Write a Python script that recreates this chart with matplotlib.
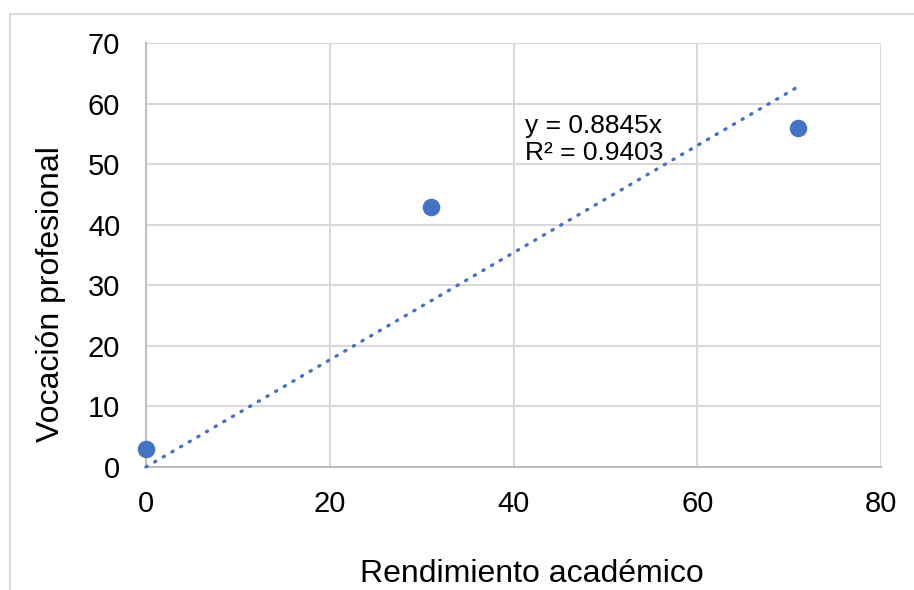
import matplotlib
matplotlib.use("Agg")
import matplotlib.pyplot as plt
from matplotlib.patches import Rectangle
import numpy as np

plt.rcParams['font.family'] = ['Liberation Sans', 'DejaVu Sans']

x_vals = [0, 31, 71]
y_vals = [3, 43, 56]
slope = 0.8845
r2 = 0.9403
x_ticks = [0, 20, 40, 60, 80]
y_ticks = [0, 10, 20, 30, 40, 50, 60, 70]

W, H = 914, 590
fig = plt.figure(figsize=(W / 100, H / 100), dpi=100)
fig.patch.set_facecolor('white')

# outer chart border (partly cut off at right/bottom)
fig.patches.append(Rectangle((10 / W, -0.05), 1.1, 1 - 14 / H + 0.05,
                             transform=fig.transFigure, fill=False,
                             edgecolor='#d9d9d9', linewidth=1.5))

ax = fig.add_axes([146 / W, 1 - 467 / H, (881 - 146) / W, (467 - 43) / H])
ax.set_xlim(0, 80)
ax.set_ylim(0, 70)
ax.set_xticks(x_ticks)
ax.set_yticks(y_ticks)
ax.grid(True, color='#d9d9d9', linewidth=1.5)
ax.set_axisbelow(True)
for s in ['top', 'right']:
    ax.spines[s].set_visible(False)
for s in ['left', 'bottom']:
    ax.spines[s].set_color('#bfbfbf')
    ax.spines[s].set_linewidth(1.5)
ax.tick_params(length=0, labelsize=21, colors='black')
ax.tick_params(axis='x', pad=16.5)
ax.tick_params(axis='y', pad=18.5)

# trendline
xt = np.array([0, max(x_vals)])
ax.plot(xt, slope * xt, color='#4472C4', linewidth=2.4,
        linestyle=(0, (0.4, 2.6)), dash_capstyle='round', zorder=3,
        clip_on=False)

ax.scatter(x_vals, y_vals, s=160, color='#4472C4', zorder=4, clip_on=False,
           linewidths=0)

ax.text(41.3, 54.0, f"y = {slope}x\nR² = {r2}", fontsize=19,
        ha='left', va='center', linespacing=1.15)

fig.text(532 / W, 1 - 574 / H, 'Rendimiento académico', fontsize=23,
         ha='center', va='center')
fig.text(51 / W, 1 - 294 / H, 'Vocación profesional', fontsize=23,
         ha='center', va='center', rotation=90)

fig.savefig('out.png', dpi=100)
